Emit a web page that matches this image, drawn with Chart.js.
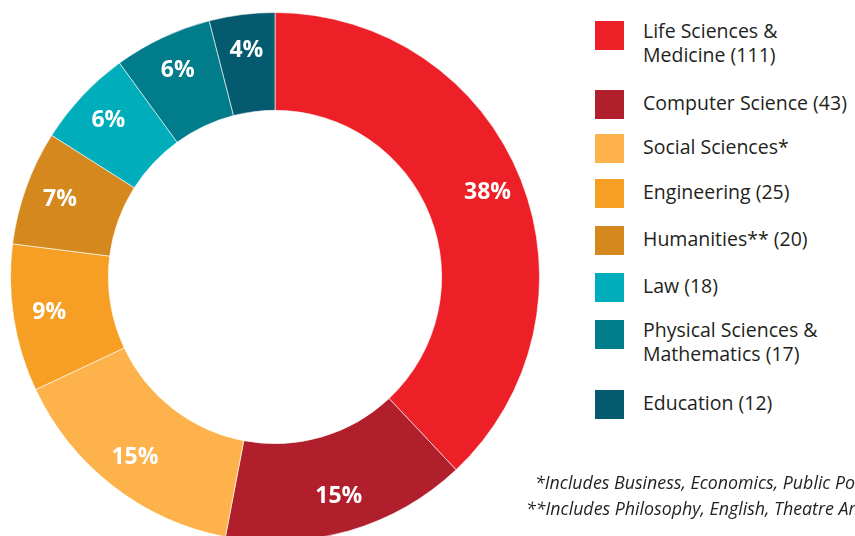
<!DOCTYPE html>
<html>
<head>
<meta charset="utf-8">
<script src="https://cdn.jsdelivr.net/npm/chart.js@4.4.1/dist/chart.umd.min.js"></script>
<style>
  html, body { margin: 0; padding: 0; background: #fff; }
  body { width: 855px; height: 536px; overflow: hidden; position: relative; font-family: "Open Sans", sans-serif; color: #231f20; }
  #chart-wrap { position: absolute; left: 10px; top: 12px; width: 530px; height: 530px; }
  #legend { position: absolute; left: 595px; top: 0; }
  .item { position: absolute; left: 0; white-space: nowrap; }
  .swatch { position: absolute; left: 0; width: 29px; height: 29px; }
  .label { position: absolute; left: 48px; font-size: 19.5px; line-height: 24px; }
  .note { position: absolute; white-space: nowrap; font-style: italic; font-size: 17.8px; }
</style>
</head>
<body>
<div id="chart-wrap"><canvas id="chart"></canvas></div>
<div id="legend"></div>
<div class="note" style="left:535px; top:470px;">*Includes Business, Economics, Public Policy</div>
<div class="note" style="left:526px; top:496px;">**Includes Philosophy, English, Theatre Arts</div>
<script>
const categories = [
  ["Life Sciences &", "Medicine (111)"],
  ["Computer Science (43)"],
  ["Social Sciences*"],
  ["Engineering (25)"],
  ["Humanities** (20)"],
  ["Law (18)"],
  ["Physical Sciences &", "Mathematics (17)"],
  ["Education (12)"],
];
// share of total, in percent, as printed on the ring
const shares = [38, 15, 15, 9, 7, 6, 6, 4];
const colors = ["#ed1f27", "#b01f2b", "#fdb24b", "#f79f24", "#d5881e", "#00adbb", "#007c8a", "#045b6f"];

// legend rows (top of each swatch)
const legendTops = [21, 90, 134, 179, 226, 273, 320, 390];

const legend = document.getElementById("legend");
categories.forEach((lines, i) => {
  const item = document.createElement("div");
  item.className = "item";
  item.style.top = legendTops[i] + "px";
  const sw = document.createElement("div");
  sw.className = "swatch";
  sw.style.background = colors[i];
  const lab = document.createElement("div");
  lab.className = "label";
  lab.style.top = (lines.length > 1 ? -2 : 1) + "px";
  lab.innerHTML = lines.join("<br>");
  item.appendChild(sw);
  item.appendChild(lab);
  legend.appendChild(item);
});

const percentLabels = {
  id: "percentLabels",
  afterDatasetsDraw(chart) {
    const ctx = chart.ctx;
    const meta = chart.getDatasetMeta(0);
    ctx.save();
    ctx.fillStyle = "#fff";
    ctx.font = "bold 23px 'Open Sans', sans-serif";
    ctx.textAlign = "center";
    ctx.textBaseline = "middle";
    meta.data.forEach((arc, i) => {
      const { startAngle, endAngle, innerRadius, outerRadius, x, y } = arc.getProps(["startAngle", "endAngle", "innerRadius", "outerRadius", "x", "y"], true);
      const mid = (startAngle + endAngle) / 2;
      const r = (innerRadius + outerRadius) / 2 + 13;
      ctx.fillText(shares[i] + "%", x + Math.cos(mid) * r, y + Math.sin(mid) * r);
    });
    ctx.restore();
  },
};

new Chart(document.getElementById("chart"), {
  type: "doughnut",
  data: {
    labels: categories.map((l) => l.join(" ")),
    datasets: [
      {
        data: shares,
        backgroundColor: colors,
        borderColor: "rgba(255,255,255,0.6)",
        borderWidth: 1,
      },
    ],
  },
  options: {
    responsive: true,
    maintainAspectRatio: false,
    animation: false,
    cutout: "63%",
    layout: { padding: 0 },
    plugins: {
      legend: { display: false },
      tooltip: { enabled: false },
    },
  },
  plugins: [percentLabels],
});
</script>
</body>
</html>
